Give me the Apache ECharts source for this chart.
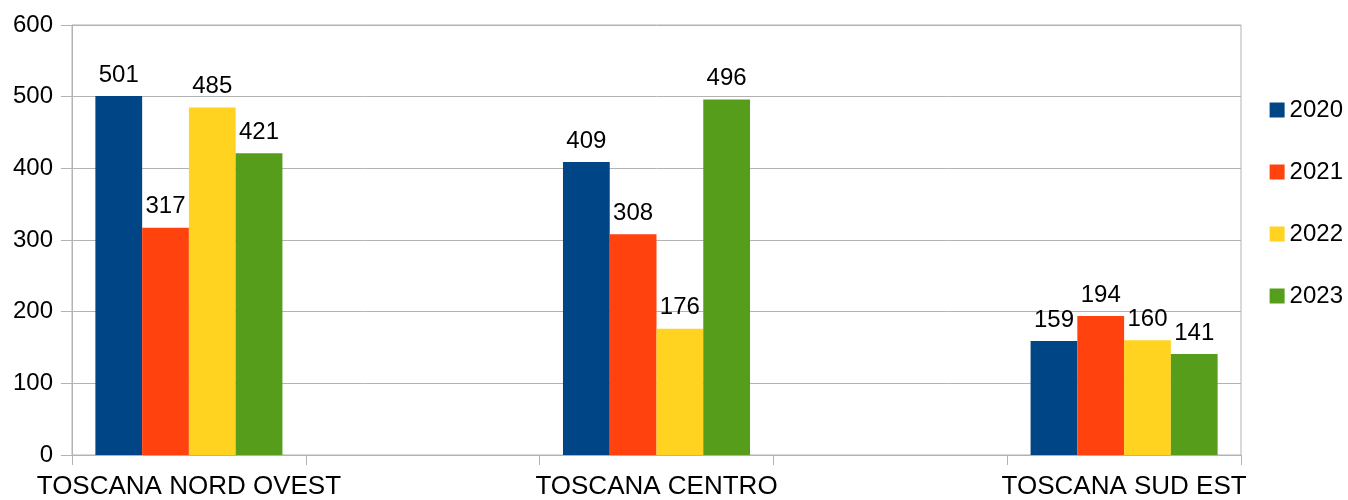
<!DOCTYPE html>
<html>
<head>
<meta charset="utf-8">
<script src="https://cdn.jsdelivr.net/npm/echarts@6/dist/echarts.min.js"></script>
<style>html,body{margin:0;padding:0;background:#fff}#c{width:1348px;height:500px}</style>
</head>
<body>
<div id="c"></div>
<script>
const categories = ["TOSCANA NORD OVEST", "", "TOSCANA CENTRO", "", "TOSCANA SUD EST"];
const years = ["2020", "2021", "2022", "2023"];
const s2020 = [501, null, 409, null, 159];
const s2021 = [317, null, 308, null, 194];
const s2022 = [485, null, 176, null, 160];
const s2023 = [421, null, 496, null, 141];
const colors = ["#004586", "#ff420e", "#ffd320", "#579d1c"];
const yTicks = [0, 100, 200, 300, 400, 500, 600];

const FONT = "'Liberation Sans', Arial, sans-serif";
const seriesData = [s2020, s2021, s2022, s2023];
const chart = echarts.init(document.getElementById('c'));
chart.setOption({
  animation: false,
  textStyle: { fontFamily: FONT },
  grid: { left: 72, right: 107, top: 25, bottom: 43, show: true, borderColor: '#b3b3b3', borderWidth: 1 },
  legend: {
    orient: 'vertical', right: 0, top: 93,
    itemWidth: 15, itemHeight: 15, itemGap: 38,
    icon: 'rect',
    textStyle: { fontSize: 24, color: '#000', fontFamily: FONT },
    data: years
  },
  xAxis: {
    type: 'category', data: categories,
    axisLine: { lineStyle: { color: '#b3b3b3' } },
    axisTick: { show: true, interval: 0, length: 10, lineStyle: { color: '#b3b3b3' } },
    axisLabel: { interval: 0, fontSize: 26, color: '#000', margin: 19, fontFamily: FONT }
  },
  yAxis: {
    type: 'value', min: yTicks[0], max: yTicks[yTicks.length - 1], interval: 100,
    axisLine: { show: true, lineStyle: { color: '#b3b3b3' } },
    axisTick: { show: true, length: 11, lineStyle: { color: '#b3b3b3' } },
    splitLine: { lineStyle: { color: '#b3b3b3' } },
    axisLabel: { fontSize: 24, color: '#000', margin: 19, fontFamily: FONT }
  },
  series: years.map((y, i) => ({
    name: y, type: 'bar', data: seriesData[i],
    barGap: '0%', barCategoryGap: '20%',
    itemStyle: { color: colors[i] },
    label: { show: true, position: 'top', distance: 9, fontSize: 24, color: '#000', fontFamily: FONT }
  }))
});
</script>
</body>
</html>
